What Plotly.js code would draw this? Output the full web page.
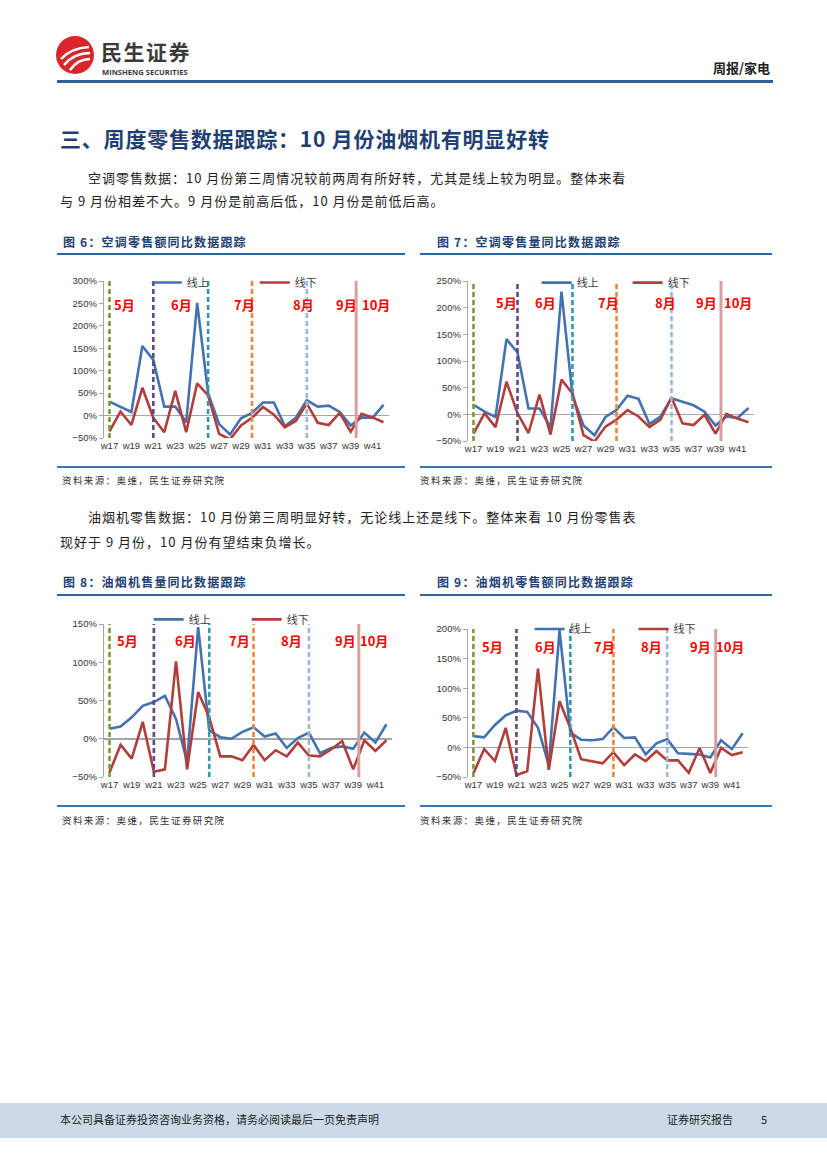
<!DOCTYPE html>
<html>
<head>
<meta charset="utf-8">
<script src="https://cdn.plot.ly/plotly-3.0.1.min.js"></script>
<style>
  html, body { margin:0; padding:0; background:#fff; }
  body { width:827px; height:1169px; position:relative; overflow:hidden;
         font-family:"Noto Sans CJK SC", "Noto Sans", sans-serif; color:#222; }
  .abs { position:absolute; white-space:nowrap; line-height:1.2; }
  .chart { position:absolute; width:345px; }
  .figtitle { font-size:12px; font-weight:bold; color:#1F3F73; letter-spacing:1.2px; }
  .rule { position:absolute; height:2px; background:#2F64A0; }
  .rule.thin { height:1.5px; background:#3B74B4; }
  .src { font-size:9.5px; color:#333; letter-spacing:1.4px; }
  .para { font-size:13px; color:#222; letter-spacing:1px; }
</style>
</head>
<body>
<!-- header -->
<svg class="abs" style="left:55px;top:35px" width="42" height="42" viewBox="0 0 42 42">
  <circle cx="20" cy="20" r="19" fill="#D9262C"/>
  <path d="M6 24 Q16 13 34 12" stroke="#fff" stroke-width="2.6" fill="none"/>
  <path d="M9 30 Q19 18 35 18" stroke="#fff" stroke-width="2.6" fill="none"/>
  <path d="M15 35 Q23 24 35 24" stroke="#fff" stroke-width="2.6" fill="none"/>
</svg>
<div class="abs" style="left:101px;top:41px;font-size:21px;line-height:1;font-weight:bold;color:#3A3A3A;letter-spacing:1.5px">民生证券</div>
<div class="abs" style="left:102px;top:68.5px;font-size:7.6px;line-height:1;font-weight:bold;color:#3A3A3A;font-family:'Open Sans','DejaVu Sans',sans-serif">MINSHENG SECURITIES</div>
<div class="abs" style="right:57px;top:60px;font-size:13px;font-weight:bold;color:#222">周报/家电</div>
<div class="rule" style="left:57px;top:80px;width:716px;height:2.5px;background:#2E5E9B"></div>

<div class="abs" style="left:60px;top:126px;font-size:21px;letter-spacing:0.8px;font-weight:bold;color:#1F3F73">三、周度零售数据跟踪：10 月份油烟机有明显好转</div>
<div class="abs para" style="left:88px;top:170px">空调零售数据：10 月份第三周情况较前两周有所好转，尤其是线上较为明显。整体来看</div>
<div class="abs para" style="left:60px;top:193px">与 9 月份相差不大。9 月份是前高后低，10 月份是前低后高。</div>

<div class="abs figtitle" style="left:63px;top:235px">图 6：空调零售额同比数据跟踪</div>
<div class="abs figtitle" style="left:437px;top:235px">图 7：空调零售量同比数据跟踪</div>
<div class="rule" style="left:57px;top:253px;width:348px"></div>
<div class="rule" style="left:420px;top:253px;width:352px"></div>

<div id="c1" class="chart" style="left:50px;top:262px;height:210px"></div>
<div id="c2" class="chart" style="left:415px;top:262px;height:210px"></div>

<div class="rule thin" style="left:57px;top:466px;width:348px"></div>
<div class="rule thin" style="left:420px;top:466px;width:352px"></div>
<div class="abs src" style="left:62px;top:475px">资料来源：奥维，民生证券研究院</div>
<div class="abs src" style="left:420px;top:475px">资料来源：奥维，民生证券研究院</div>

<div class="abs para" style="left:88px;top:509px">油烟机零售数据：10 月份第三周明显好转，无论线上还是线下。整体来看 10 月份零售表</div>
<div class="abs para" style="left:60px;top:534px">现好于 9 月份，10 月份有望结束负增长。</div>

<div class="abs figtitle" style="left:63px;top:575px">图 8：油烟机售量同比数据跟踪</div>
<div class="abs figtitle" style="left:437px;top:575px">图 9：油烟机零售额同比数据跟踪</div>
<div class="rule" style="left:57px;top:594px;width:348px"></div>
<div class="rule" style="left:420px;top:594px;width:352px"></div>

<div id="c3" class="chart" style="left:50px;top:602px;height:200px"></div>
<div id="c4" class="chart" style="left:415px;top:602px;height:200px"></div>

<div class="rule thin" style="left:57px;top:805px;width:348px"></div>
<div class="rule thin" style="left:420px;top:805px;width:352px"></div>
<div class="abs src" style="left:62px;top:815px">资料来源：奥维，民生证券研究院</div>
<div class="abs src" style="left:420px;top:815px">资料来源：奥维，民生证券研究院</div>

<!-- footer -->
<div class="abs" style="left:0;top:1103px;width:827px;height:35px;background:#CCDAE8"></div>
<div class="abs" style="left:60px;top:1113px;font-size:11px;color:#222">本公司具备证券投资咨询业务资格，请务必阅读最后一页免责声明</div>
<div class="abs" style="left:667px;top:1113px;font-size:11px;color:#222">证券研究报告</div>
<div class="abs" style="left:761px;top:1113px;font-size:11px;color:#222">5</div>

<script>
// ---------------- data ----------------
const weeks = ['w17','w18','w19','w20','w21','w22','w23','w24','w25','w26','w27','w28','w29',
               'w30','w31','w32','w33','w34','w35','w36','w37','w38','w39','w40','w41','w42'];
const tickWeeks = ['w17','w19','w21','w23','w25','w27','w29','w31','w33','w35','w37','w39','w41'];
const seriesNames = ['线上','线下'];
const monthNames = ['5月','6月','7月','8月','9月','10月'];
// month boundaries (category index): w17, w21, w26, w30, w35, between w39 and w40
const monthBoundaries = [0, 4, 9, 13, 18, 22.5];

// 图6 空调零售额同比 (%)
const acValueOnline  = [31,19,8,155,124,20,20,-15,251,50,-19,-42,-6,6,29,29,-24,-5,34,20,22,8,-22,-4,-5,24];
const acValueOffline = [-35,9,-21,62,-5,-37,55,-37,72,45,-41,-53,-22,-5,19,2,-26,-12,27,-16,-21,6,-36,4,-4,-15];
// 图7 空调零售量同比 (%)
const acVolumeOnline  = [18,5,-5,141,116,11,11,-25,230,35,-21,-39,-5,8,35,29,-18,-4,30,23,17,5,-21,-4,-7,12];
const acVolumeOffline = [-36,2,-24,61,2,-35,37,-38,65,39,-39,-51,-23,-10,8,-4,-24,-10,32,-17,-20,-1,-36,1,-8,-15];
// 图8 油烟机售量同比 (%)
const hoodVolumeOnline  = [13,16,28,43,48,56,26,-30,146,11,2,0,9,15,3,7,-12,1,8,-19,-12,-10,-13,8,-5,19];
const hoodVolumeOffline = [-44,-8,-26,22,-43,-40,101,-40,61,28,-23,-23,-28,-8,-28,-15,-23,-5,-22,-23,-14,-3,-40,-2,-16,-2];
// 图9 油烟机零售额同比 (%)
const hoodValueOnline  = [19,17,38,54,62,60,33,-30,198,25,13,12,14,34,16,17,-12,7,14,-10,-11,-12,-17,12,-3,24];
const hoodValueOffline = [-44,-3,-23,33,-47,-40,133,-38,78,33,-20,-24,-27,-8,-30,-12,-23,-6,-22,-22,-43,-1,-43,-1,-13,-8];

// ---------------- styles ----------------
const lineColors = ['#4472B0', '#B23E3B'];
const boundaryStyles = [
  {color:'#7A9A3A', dash:'5px,3px', width:2.6},
  {color:'#5E4A82', dash:'5px,3px', width:2.6},
  {color:'#2F97AE', dash:'5px,3px', width:2.6},
  {color:'#E8873A', dash:'5px,3px', width:2.6},
  {color:'#9DB7DA', dash:'5px,3px', width:2.6},
  {color:'#D9A0A0', dash:'solid',   width:3}
];

function makeChart(id, online, offline, cfg) {
  const traces = [online, offline].map((vals, i) => ({
    type:'scatter', mode:'lines', x:weeks, y:vals, name:seriesNames[i],
    line:{color:lineColors[i], width:2.6}, hoverinfo:'skip'
  }));
  const shapes = monthBoundaries.map((b, i) => ({
    type:'line', xref:'x', yref:'y domain', x0:b, x1:b, y0:0, y1:1, layer:'above',
    line:boundaryStyles[i]
  }));
  const annotations = monthNames.map((m, i) => ({
    xref:'x', yref:'y domain', x:cfg.monthX[i], y:cfg.monthY, text:m, showarrow:false,
    font:{family:'Noto Sans CJK SC', size:13, color:'#FF0000', weight:'bold'},
    xanchor:'center', yanchor:'middle'
  }));
  const layout = {
    width:345, height:cfg.h,
    margin:{l:cfg.l, r:cfg.r, t:cfg.t, b:cfg.b, pad:0},
    paper_bgcolor:'rgba(0,0,0,0)', plot_bgcolor:'rgba(0,0,0,0)',
    showlegend:true,
    legend:{orientation:'h', x:cfg.legX, xanchor:'left', y:cfg.legY, yanchor:'middle',
            bgcolor:'rgba(0,0,0,0)', entrywidth:cfg.entryW, entrywidthmode:'pixels',
            font:{family:'Noto Sans CJK SC', size:11, color:'#404040'}, tracegroupgap:0},
    xaxis:{type:'category', range:[-0.5, weeks.length-0.5], tickvals:tickWeeks, ticktext:tickWeeks,
           showgrid:false, zeroline:false, showline:false, ticks:'',
           tickfont:{family:'Liberation Sans, Arial', size:9.5, color:'#333'}, fixedrange:true},
    yaxis:{range:cfg.yr, dtick:50, ticksuffix:'%', showgrid:false,
           zeroline:true, zerolinecolor:'#A6A6A6', zerolinewidth:1.5,
           showline:true, linecolor:'#A6A6A6', linewidth:1.2, ticks:'outside', ticklen:4, tickcolor:'#A6A6A6',
           tickfont:{family:'Liberation Sans, Arial', size:9.5, color:'#333'}, fixedrange:true},
    shapes:shapes, annotations:annotations
  };
  Plotly.newPlot(id, traces, layout, {displayModeBar:false, staticPlot:true});
}

makeChart('c1', acValueOnline, acValueOffline, {
  h:210, l:53.8, r:6.2, t:13, b:34.3, yr:[-50,300],
  monthX:[1.34, 6.54, 12.3, 17.7, 21.6, 24.3], monthY:0.85,
  legX:0.15, legY:0.99, entryW:63
});
makeChart('c2', acVolumeOnline, acVolumeOffline, {
  h:210, l:53.3, r:5.8, t:11.3, b:31, yr:[-50,250],
  monthX:[3.0, 6.5, 12.3, 17.45, 21.2, 24.05], monthY:0.866,
  legX:0.24, legY:0.99, entryW:46
});
makeChart('c3', hoodVolumeOnline, hoodVolumeOffline, {
  h:200, l:53.8, r:3.1, t:15.3, b:24.7, yr:[-50,150],
  monthX:[1.66, 6.83, 11.7, 16.4, 21.3, 23.9], monthY:0.895,
  legX:0.155, legY:1.03, entryW:53
});
makeChart('c4', hoodValueOnline, hoodValueOffline, {
  h:200, l:53.3, r:12.2, t:13, b:24.7, yr:[-50,200],
  monthX:[1.77, 6.7, 12.15, 16.5, 21.05, 23.85], monthY:0.885,
  legX:0.22, legY:1.0, entryW:59
});
</script>
</body>
</html>
